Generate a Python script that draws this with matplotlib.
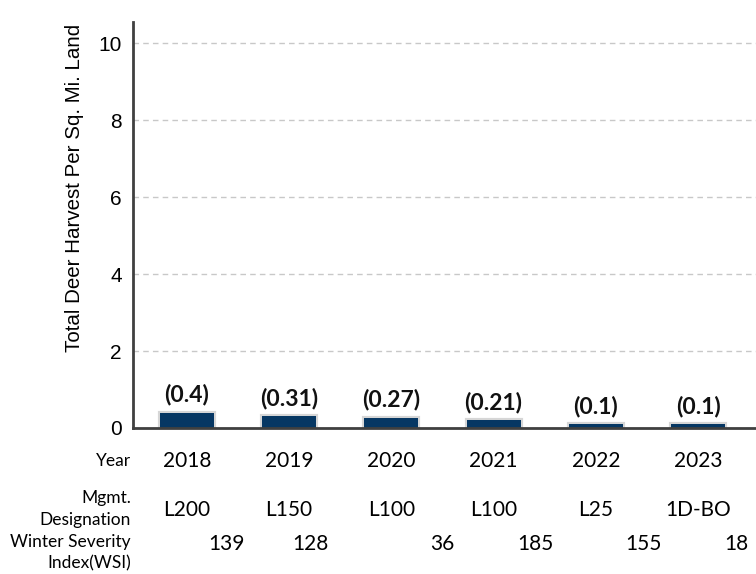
import numpy as np
import matplotlib
matplotlib.use('Agg')
from matplotlib import pyplot as plt
from matplotlib import transforms

years = ['2018', '2019', '2020', '2021', '2022', '2023']
harvest = [0.4, 0.31, 0.27, 0.21, 0.1, 0.1]
mgmt = ['L200', 'L150', 'L100', 'L100', 'L25', '1D-BO']
wsi = ['139', '128', '36', '185', '155', '18']

# wsi numbers sit between the bars in the source, not under them
wsi_shift = [0.39, 0.21, 0.50, 0.41, 0.47, 0.37]

navy = '#063763'
spine_col = '#404040'
lab_font = 'Lato'

fig = plt.figure(figsize=(7.56, 5.74), dpi=100)
ax = fig.add_axes([0.1759, 0.2544, 0.8241, 0.7073])

x = np.arange(len(years))
# grey halo first, then the navy fill on top so thin bars still show
ax.bar(x, harvest, width=0.53, color='#d6d6d6', edgecolor='#d6d6d6', linewidth=3, zorder=3)
ax.bar(x, harvest, width=0.53, color=navy, linewidth=0, zorder=4)

for xi, v in zip(x, harvest):
    ax.annotate('(%s)' % v, (xi, v), xytext=(0, 5), textcoords='offset points',
                ha='center', va='bottom', fontsize=16.5, fontweight='bold',
                family=lab_font, color='#111111')

ax.set_xlim(-0.528, 5.567)
ax.set_ylim(0, 10.55)
ax.set_yticks([0, 2, 4, 6, 8, 10])
ax.set_xticks([])
ax.tick_params(axis='y', length=0, pad=8, labelsize=15)
for t in ax.get_yticklabels():
    t.set_family('Liberation Sans')
ax.yaxis.grid(True, linestyle=(0, (4, 3)), color='#c8c8c8', linewidth=1, zorder=0)
ax.set_axisbelow(True)

for s in ['top', 'right']:
    ax.spines[s].set_visible(False)
for s in ['left', 'bottom']:
    ax.spines[s].set_color(spine_col)
    ax.spines[s].set_linewidth(2)
ax.spines['bottom'].set_zorder(5)

fig.text(0.099, 0.6725, 'Total Deer Harvest Per Sq. Mi. Land', rotation=90,
         ha='center', va='center', fontsize=14.8, family='Liberation Sans')

# table of text rows under the axis
tr = transforms.blended_transform_factory(ax.transData, fig.transFigure)
for xi, y, m, w, dx in zip(x, years, mgmt, wsi, wsi_shift):
    ax.text(xi, 0.197, y, transform=tr, ha='center', va='center', fontsize=15, family=lab_font)
    ax.text(xi, 0.1115, m, transform=tr, ha='center', va='center', fontsize=15, family=lab_font)
    ax.text(xi + dx, 0.0523, w, transform=tr, ha='center', va='center', fontsize=15, family=lab_font)

fig.text(0.173, 0.197, 'Year', ha='right', va='center', fontsize=12.5, family=lab_font)
fig.text(0.173, 0.113, 'Mgmt.\nDesignation', ha='right', va='center', multialignment='right',
         fontsize=12.5, family=lab_font, linespacing=1.45)
fig.text(0.173, 0.037, 'Winter Severity\nIndex(WSI)', ha='right', va='center', multialignment='right',
         fontsize=12.5, family=lab_font, linespacing=1.45)

fig.savefig('out.png', dpi=100)
